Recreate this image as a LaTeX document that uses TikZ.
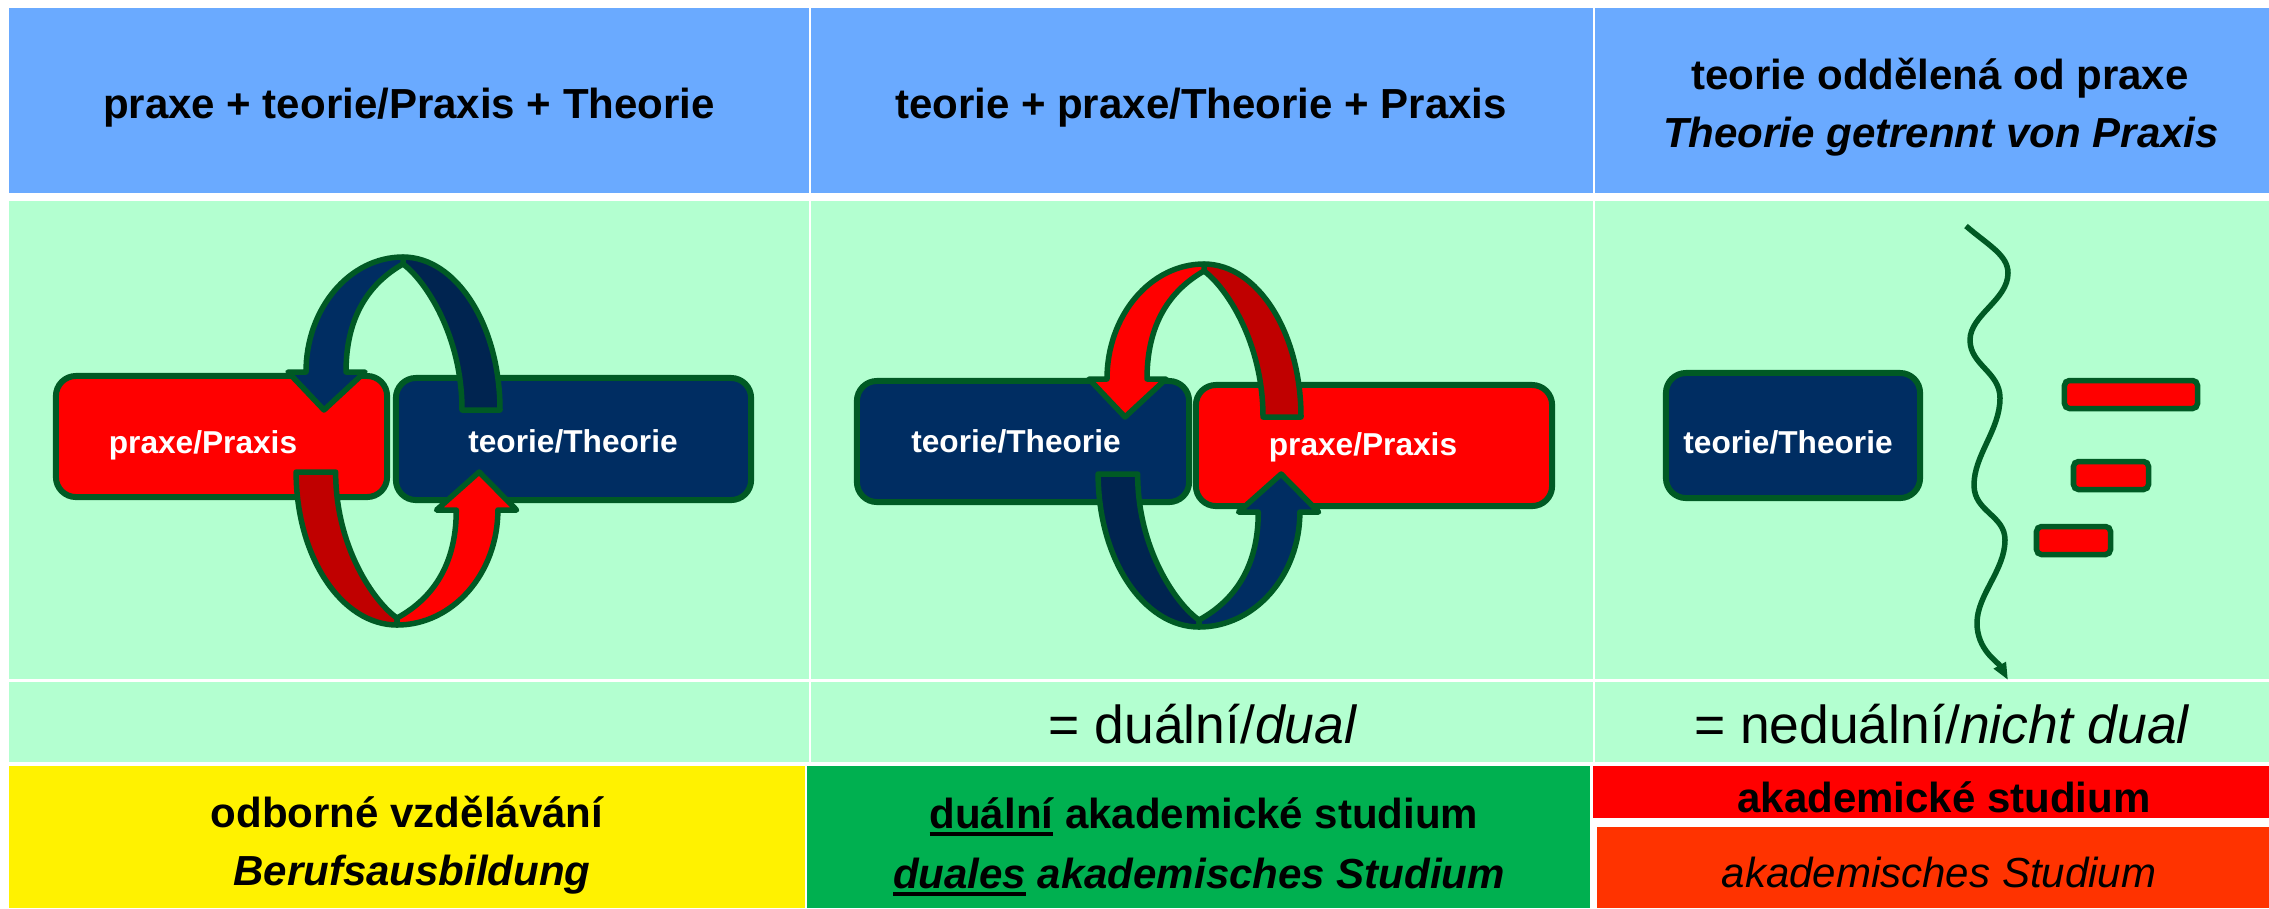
\documentclass[tikz,border=0pt]{standalone}
\usepackage{fontspec}
\setmainfont{Liberation Sans}
\usetikzlibrary{arrows.meta}
\definecolor{hdr}{RGB}{106,170,255}
\definecolor{lgreen}{RGB}{179,255,208}
\definecolor{navy}{RGB}{0,45,98}
\definecolor{darknavy}{RGB}{0,36,80}
\definecolor{dred}{RGB}{192,0,0}
\definecolor{bgreen}{RGB}{0,90,36}
\definecolor{cgreen}{RGB}{0,176,80}
\definecolor{orng}{RGB}{255,51,0}
\newsavebox{\ulbox}
\newcommand{\myul}[1]{\sbox{\ulbox}{#1}\rlap{\rule[-0.2em]{\wd\ulbox}{0.1em}}\usebox{\ulbox}}
\tikzset{
  cell/.style={inner sep=0pt, outer sep=0pt, anchor=north west, draw=none},
  txt/.style={inner sep=0pt, outer sep=0pt, anchor=base, align=center},
  bigfont/.style={font=\fontsize{11.95pt}{14pt}\selectfont\bfseries},
  boxfont/.style={font=\fontsize{9pt}{11pt}\selectfont\bfseries, text=white},
  rowfont/.style={font=\fontsize{15.2pt}{18pt}\selectfont},
  box/.style={draw=bgreen, line width=0.6mm, rounded corners=2mm, inner sep=0pt, outer sep=0pt},
  bar/.style={draw=bgreen, fill=red, line width=0.55mm, rounded corners=0.5mm, inner sep=0pt, outer sep=0pt},
  arrline/.style={draw=bgreen, line width=0.55mm, line join=round},
  pics/cyclearrow/.style 2 args={code={
    \path[arrline, fill=#2] (0,-153) .. controls (53.5,-153) and (97,-84.5) .. (97,0)
      -- (59,0) .. controls (59,-75) and (22,-130) .. (0,-146) -- cycle;
    \path[arrline, fill=#1] (0,-153) .. controls (-53.5,-153) and (-97,-101.5) .. (-97,-38)
      -- (-115,-38) -- (-79,0) -- (-38,-38) -- (-57,-38)
      .. controls (-57,-100) and (-28,-130) .. (0,-146) -- cycle;
  }}
}
\begin{document}
\begin{tikzpicture}[x=0.01cm,y=-0.01cm]
\useasboundingbox (0,0) rectangle (2269,908);
\fill[white] (0,0) rectangle (2269,908);
% header row
\node[cell, fill=hdr, minimum width=80mm, minimum height=18.5mm] (h1) at (9,8) {};
\node[cell, fill=hdr, minimum width=78.2mm, minimum height=18.5mm] (h2) at (811,8) {};
\node[cell, fill=hdr, minimum width=67.4mm, minimum height=18.5mm] (h3) at (1595,8) {};
% main green row
\node[cell, fill=lgreen, minimum width=80mm, minimum height=47.8mm] (g1) at (9,201) {};
\node[cell, fill=lgreen, minimum width=78.2mm, minimum height=47.8mm] (g2) at (811,201) {};
\node[cell, fill=lgreen, minimum width=67.4mm, minimum height=47.8mm] (g3) at (1595,201) {};
% second green row
\node[cell, fill=lgreen, minimum width=80mm, minimum height=8mm] (r1) at (9,682) {};
\node[cell, fill=lgreen, minimum width=78.2mm, minimum height=8mm] (r2) at (811,682) {};
\node[cell, fill=lgreen, minimum width=67.4mm, minimum height=8mm] (r3) at (1595,682) {};
% bottom row
\node[cell, fill=yellow, minimum width=79.6mm, minimum height=14.2mm] (b1) at (9,766) {};
\node[cell, fill=cgreen, minimum width=78.3mm, minimum height=14.2mm] (b2) at (807,766) {};
\node[cell, fill=red, minimum width=67.6mm, minimum height=5.2mm] (b3a) at (1593,766) {};
\node[cell, fill=orng, minimum width=67.2mm, minimum height=8.1mm] (b3b) at (1597,827) {};
% header texts
\node[txt, bigfont] (h1t) at (409,118) {praxe + teorie/Praxis + Theorie};
\node[txt, bigfont] (h2t) at (1201,118) {teorie + praxe/Theorie + Praxis};
\node[txt, bigfont] (h3ta) at (1940,89) {teorie oddělená od praxe};
\node[txt, bigfont] (h3tb) at (1941,147) {\itshape Theorie getrennt von Praxis};
% boxes column 1
\node[box, fill=red, minimum width=33.1mm, minimum height=12.1mm] (p1) at (221.5,436.5) {};
\node[box, fill=navy, minimum width=35.5mm, minimum height=12.2mm] (t1) at (573.5,439) {};
% boxes column 2
\node[box, fill=navy, minimum width=33.2mm, minimum height=12.1mm] (t2) at (1023,441.5) {};
\node[box, fill=red, minimum width=35.6mm, minimum height=12.1mm] (p2) at (1374,445.5) {};
% column 3
\node[box, fill=navy, minimum width=25.4mm, minimum height=12.5mm] (t3) at (1793,435.5) {};
\node[bar, minimum width=13.3mm, minimum height=2.8mm] (bar1) at (2131,394.5) {};
\node[bar, minimum width=7.5mm, minimum height=2.8mm] (bar2) at (2111,475.5) {};
\node[bar, minimum width=7.4mm, minimum height=2.8mm] (bar3) at (2073.5,540.5) {};
% cycle arrows
\pic at (403,410) {cyclearrow={navy}{darknavy}};
\pic[rotate=180, xscale=1.04] at (397,472) {cyclearrow={red}{dred}};
\pic at (1204,417) {cyclearrow={red}{dred}};
\pic[rotate=180, xscale=1.04] at (1199,474) {cyclearrow={navy}{darknavy}};
% box labels
\node[txt, boxfont] (p1t) at (203,453) {praxe/Praxis};
\node[txt, boxfont] (t1t) at (573,452) {teorie/Theorie};
\node[txt, boxfont] (t2t) at (1016,452) {teorie/Theorie};
\node[txt, boxfont] (p2t) at (1363,455) {praxe/Praxis};
\node[txt, boxfont] (t3t) at (1788,453) {teorie/Theorie};
% wavy separator
\coordinate (w0) at (1966,226);
\coordinate (w1) at (2008,680);
\draw[bgreen, line width=0.55mm, -{Triangle[length=1.7mm,width=1.3mm]}] (w0)
  .. controls (1988,245) and (2008,255) .. (2008,273)
  .. controls (2008,300) and (1970,315) .. (1970,340)
  .. controls (1970,365) and (2000,372) .. (2000,398)
  .. controls (2000,430) and (1974,455) .. (1974,485)
  .. controls (1974,512) and (2005,515) .. (2005,540)
  .. controls (2005,570) and (1977,595) .. (1977,623)
  .. controls (1977,650) and (1998,662) .. (w1);
% second row texts
\node[txt, rowfont] (r2t) at (1203,743) {= duální/\textit{dual}};
\node[txt, rowfont] (r3t) at (1942,743) {= neduální/\textit{nicht dual}};
% bottom texts
\node[txt, bigfont] (b1ta) at (407,827) {odborné vzdělávání};
\node[txt, bigfont] (b1tb) at (412,885) {\itshape Berufsausbildung};
\node[txt, bigfont] (b2ta) at (1204,828) {\myul{duální} akademické studium};
\node[txt, bigfont] (b2tb) at (1199,888) {\itshape\myul{duales} akademisches Studium};
\node[txt, bigfont] (b3at) at (1944,812) {akademické studium};
\node[txt, font=\fontsize{11.95pt}{14pt}\selectfont\itshape] (b3bt) at (1939,887) {akademisches Studium};
\end{tikzpicture}
\end{document}
